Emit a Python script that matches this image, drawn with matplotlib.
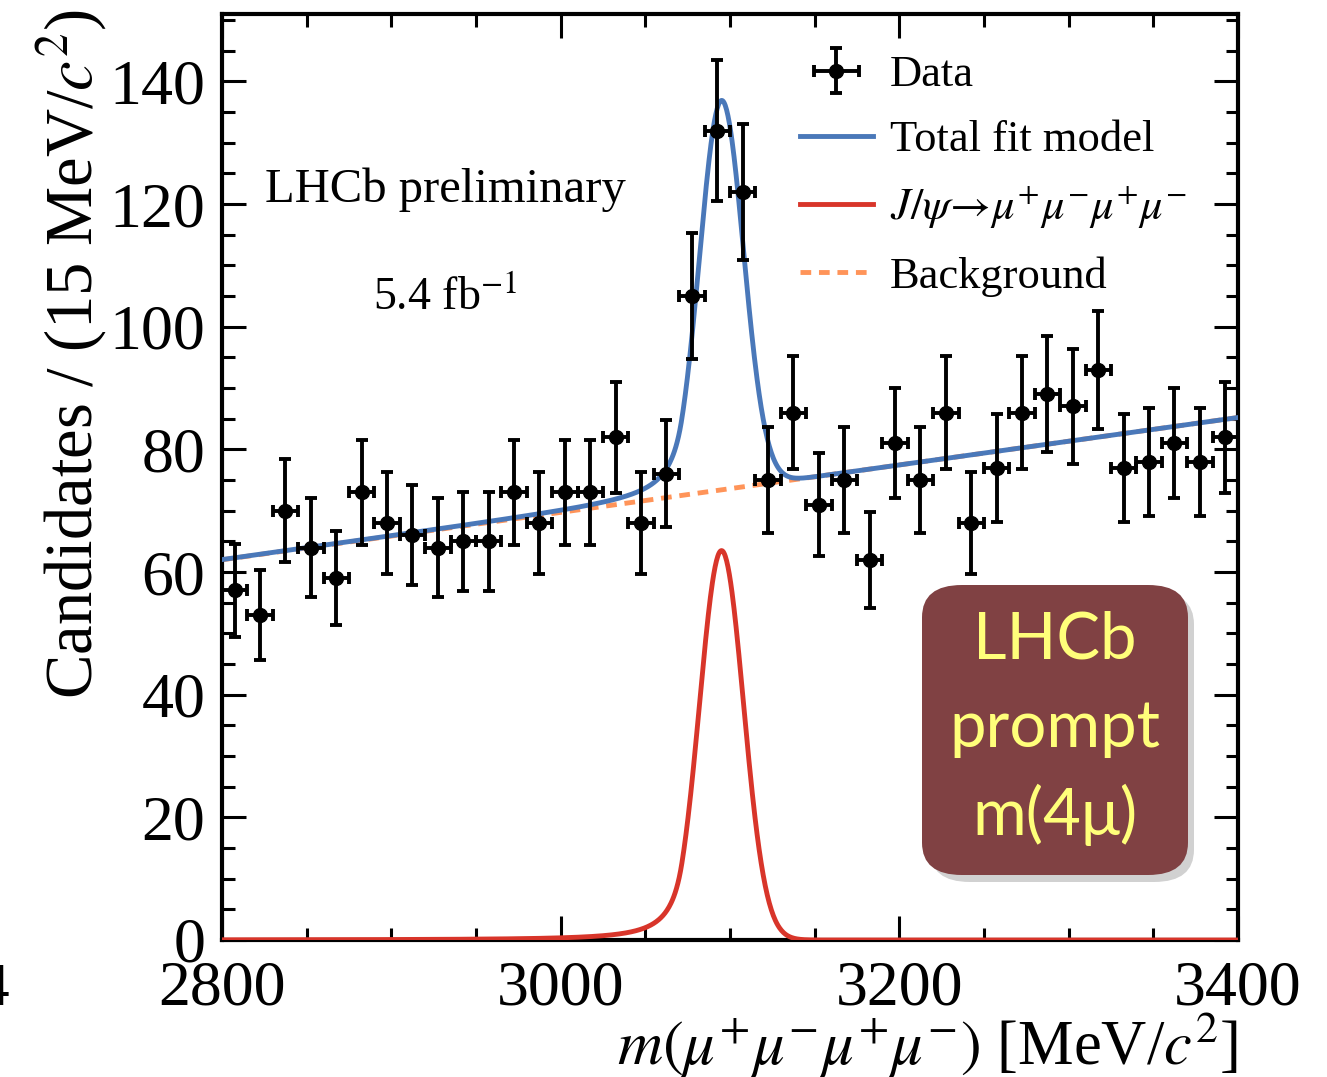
import numpy as np
import matplotlib
matplotlib.use('Agg')
import matplotlib.pyplot as plt
from matplotlib.patches import FancyBboxPatch
from matplotlib.ticker import MultipleLocator

plt.rcParams['font.family'] = ['Liberation Serif', 'DejaVu Serif']
plt.rcParams['mathtext.fontset'] = 'stix'

# Data: 15 MeV bins from 2800 to 3400
bin_width = 15.0
bin_centers = np.arange(2800 + bin_width / 2, 3400, bin_width)
counts = np.array([57, 53, 70, 64, 59, 73, 68, 66, 64, 65,
                   65, 73, 68, 73, 73, 82, 68, 76, 105, 132,
                   122, 75, 86, 71, 75, 62, 81, 75, 86, 68,
                   77, 86, 89, 87, 93, 77, 78, 81, 78, 82])
errors = np.sqrt(counts)

# Fit model parameters
bkg_at_2800 = 62.0
bkg_at_3400 = 85.2
sig_peak = 63.5
sig_mean = 3095.0
sig_sigma = 13.0
cb_alpha = 1.8
cb_n = 2.0

m = np.linspace(2800, 3400, 1501)
bkg = bkg_at_2800 + (bkg_at_3400 - bkg_at_2800) * (m - 2800) / 600.0
t = (m - sig_mean) / sig_sigma
A = (cb_n / cb_alpha) ** cb_n * np.exp(-cb_alpha ** 2 / 2)
B = cb_n / cb_alpha - cb_alpha
shape = np.where(t > -cb_alpha, np.exp(-t ** 2 / 2),
                 A * np.abs(B - t) ** (-cb_n))
sig = sig_peak * shape
total = bkg + sig

W, H = 1327, 1077
fig = plt.figure(figsize=(W / 100, H / 100), dpi=100)
ax = fig.add_axes([222 / W, 1 - 940 / H, (1238 - 222) / W, (940 - 14) / H])

ax.plot(m, bkg, color='#ff9459', lw=3.5, dashes=(2.2, 1.6), label='Background', zorder=2)
ax.plot(m, total, color='#4a78b9', lw=3.5, label='Total fit model', zorder=3)
ax.plot(m, sig, color='#d8352a', lw=3.5,
        label=r'$J/\psi\!\rightarrow\!\mu^{+}\mu^{-}\mu^{+}\mu^{-}$', zorder=3)
ax.errorbar(bin_centers, counts, xerr=bin_width / 2, yerr=errors, fmt='o',
            color='k', ms=10, lw=2.8, capsize=4.5, capthick=2.8, label='Data', zorder=5)

ax.set_xlim(2800, 3400)
ax.set_ylim(0, 151)
ax.xaxis.set_major_locator(MultipleLocator(200))
ax.xaxis.set_minor_locator(MultipleLocator(50))
ax.yaxis.set_major_locator(MultipleLocator(20))
ax.yaxis.set_minor_locator(MultipleLocator(5))
ax.tick_params(which='both', direction='in', top=True, right=True, width=2.2)
ax.tick_params(which='major', length=17, labelsize=46)
ax.tick_params(axis='x', which='major', pad=15)
ax.tick_params(axis='y', which='major', pad=12)
ax.tick_params(which='minor', length=9)
for s in ax.spines.values():
    s.set_linewidth(3)

ax.set_xlabel(r'$m(\mu^{+}\mu^{-}\mu^{+}\mu^{-})$ [MeV/$c^{2}$]', fontsize=45,
              ha='right', x=1.0, labelpad=-6)
ax.set_ylabel(r'Candidates / (15 MeV/$c^{2}$)', fontsize=48, ha='right', y=1.005,
              labelpad=0)

handles, labels = ax.get_legend_handles_labels()
order = [3, 1, 2, 0]
ax.legend([handles[i] for i in order], [labels[i] for i in order],
          loc='upper left', bbox_to_anchor=(800 / W, 1 - 55 / H),
          bbox_transform=fig.transFigure, frameon=False, fontsize=32,
          handlelength=1.64, handletextpad=0.38, labelspacing=0.56,
          borderpad=0, borderaxespad=0)

fig.text(265 / W, 1 - 190 / H, 'LHCb preliminary', fontsize=35, va='center', ha='left')
fig.text(373 / W, 1 - 298 / H, r'5.4 fb$^{-1}$', fontsize=33, va='center', ha='left')

# LHCb badge
shadow = FancyBboxPatch((930 / W, 1 - 882 / H), 264 / W, 290 / H,
                        boxstyle='round,pad=0,rounding_size=0.03',
                        transform=fig.transFigure, facecolor='#000000',
                        alpha=0.18, edgecolor='none', zorder=9)
badge = FancyBboxPatch((922 / W, 1 - 875 / H), 266 / W, 290 / H,
                       boxstyle='round,pad=0,rounding_size=0.03',
                       transform=fig.transFigure, facecolor='#804143',
                       edgecolor='none', zorder=10)
fig.patches.extend([shadow, badge])
for txt, yy in [('LHCb', 640), ('prompt', 728), ('m(4μ)', 815)]:
    fig.text(1055 / W, 1 - yy / H, txt, fontsize=47, color='#ffff7a',
             family=['Lato', 'DejaVu Sans'], ha='center', va='center', zorder=11)

fig.text(-6 / W, 1 - 990 / H, '4', fontsize=44, ha='center', va='center')

fig.savefig('out.png', dpi=100)
